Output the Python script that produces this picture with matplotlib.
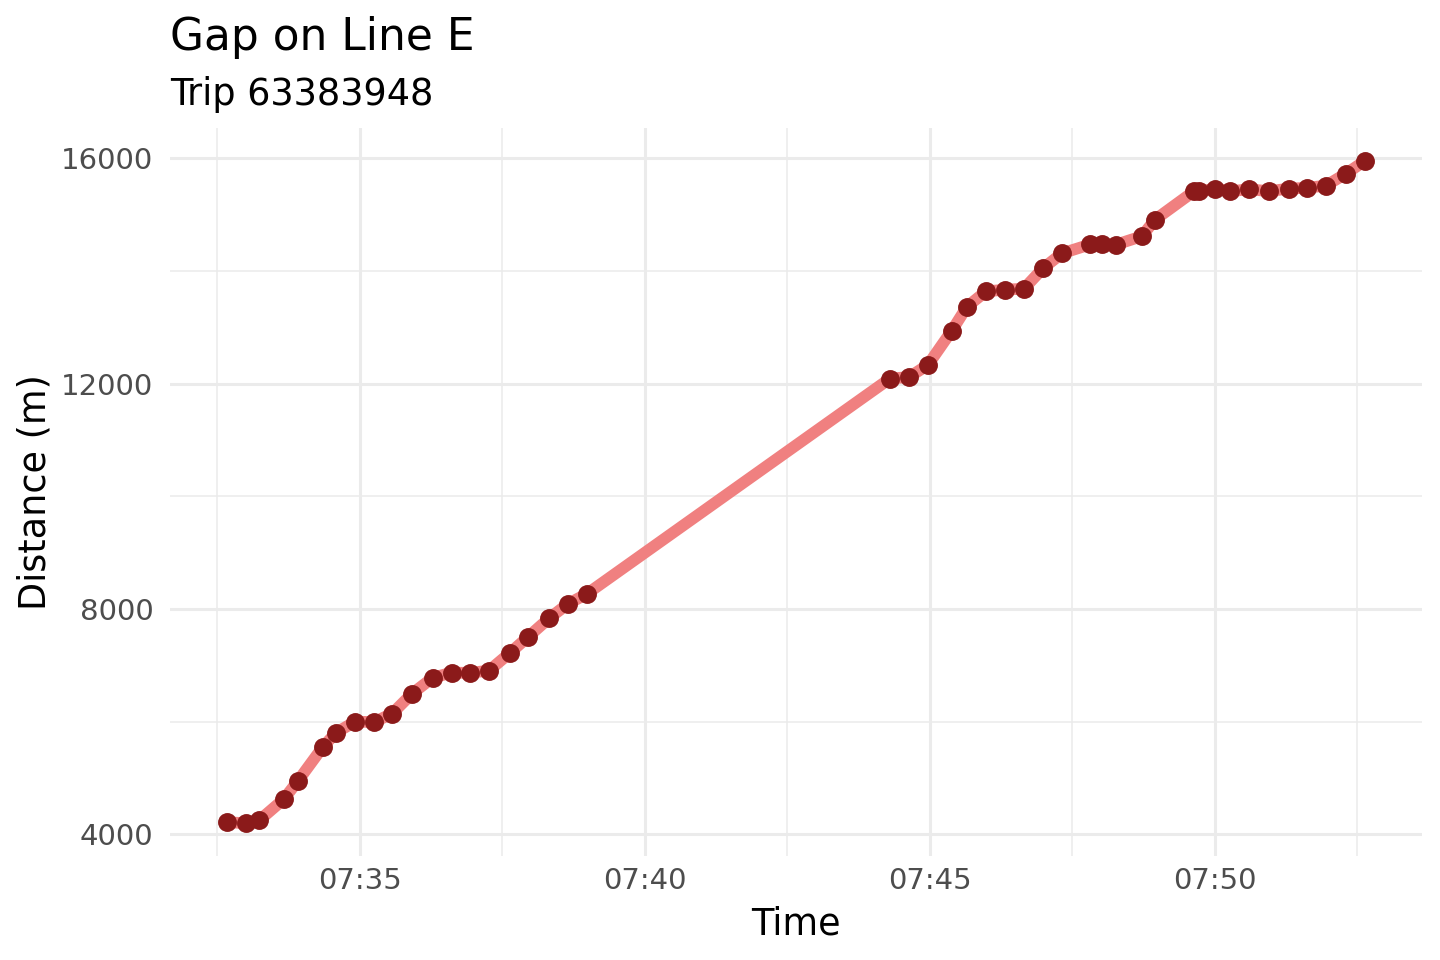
import pandas as pd
import matplotlib
matplotlib.use("Agg")
import matplotlib.pyplot as plt
import matplotlib.dates as mdates
from matplotlib.ticker import MultipleLocator, FixedLocator

# readings of one trip (time of day, distance along route in m)
times = ["07:32:40", "07:33:00", "07:33:14", "07:33:40", "07:33:55", "07:34:21",
         "07:34:35", "07:34:55", "07:35:15", "07:35:34", "07:35:55", "07:36:17",
         "07:36:37", "07:36:56", "07:37:16", "07:37:38", "07:37:57", "07:38:19",
         "07:38:39", "07:38:59",
         "07:44:18", "07:44:38", "07:44:58", "07:45:23", "07:45:39", "07:45:59",
         "07:46:19", "07:46:39", "07:46:59", "07:47:19", "07:47:49", "07:48:01",
         "07:48:16", "07:48:43", "07:48:57", "07:49:38", "07:49:43", "07:50:00",
         "07:50:16", "07:50:36", "07:50:57", "07:51:18", "07:51:37", "07:51:57",
         "07:52:18", "07:52:38"]
distance = [4217, 4199, 4248, 4626, 4953, 5551, 5807, 6002, 5995, 6145,
            6500, 6785, 6873, 6868, 6909, 7222, 7506, 7834, 8093, 8271,
            12094, 12119, 12337, 12942, 13369, 13641, 13671, 13689, 14050, 14316,
            14476, 14476, 14472, 14619, 14915, 15419, 15419, 15461, 15419, 15454,
            15419, 15467, 15479, 15520, 15733, 15959]

t = pd.to_datetime(["2020-01-01 " + s for s in times])

fig = plt.figure(figsize=(7.2, 4.8), dpi=200)
ax = fig.add_axes([0.118, 0.108, 0.8695, 0.759])

ax.plot(t, distance, color="#F08080", linewidth=4.2, solid_capstyle="butt", zorder=3)
ax.plot(t, distance, "o", color="#8B1A1A", markersize=6.8, markeredgewidth=0, zorder=4)

# ggplot-like expansion of 5%
span = t[-1] - t[0]
ax.set_xlim(t[0] - span * 0.05, t[-1] + span * 0.05)
dr = max(distance) - min(distance)
ax.set_ylim(min(distance) - dr * 0.05, max(distance) + dr * 0.05)

ax.xaxis.set_major_locator(mdates.MinuteLocator(byminute=range(0, 60, 5)))
ax.xaxis.set_major_formatter(mdates.DateFormatter("%H:%M"))
ax.yaxis.set_major_locator(MultipleLocator(4000))
ax.yaxis.set_minor_locator(MultipleLocator(2000))

# minor x gridlines half-way between the majors
minor_x = pd.date_range("2020-01-01 07:27:30", "2020-01-01 07:57:30", freq="5min")
ax.xaxis.set_minor_locator(FixedLocator(mdates.date2num(minor_x)))

ax.grid(which="major", color="#EBEBEB", linewidth=1.1)
ax.grid(which="minor", color="#EBEBEB", linewidth=0.55)
ax.set_axisbelow(True)
for s in ax.spines.values():
    s.set_visible(False)
ax.tick_params(which="both", length=0)
ax.tick_params(axis="both", labelsize=10.5, labelcolor="#4D4D4D")
ax.tick_params(axis="x", pad=4)
ax.tick_params(axis="y", pad=6)

ax.set_xlabel("Time", fontsize=13.2, labelpad=3.5)
ax.set_ylabel("Distance (m)", fontsize=13.2, labelpad=2.8)

fig.text(0.118, 0.961, "Gap on Line E", fontsize=15.8, va="center", ha="left")
fig.text(0.118, 0.902, "Trip 63383948", fontsize=13.2, va="center", ha="left")

fig.savefig("out.png", dpi=200, facecolor="white")
